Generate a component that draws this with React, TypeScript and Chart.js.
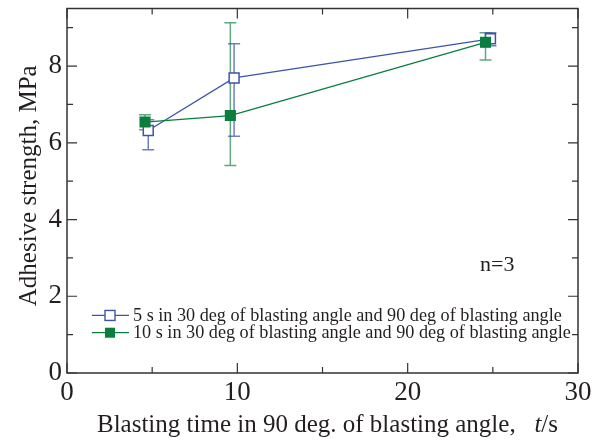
import React, { useEffect, useRef } from "react";
import { Chart, registerables } from "chart.js";

Chart.register(...registerables);

// Series A: 5 s in 30 deg + 90 deg (open squares, blue)
const xA = [4.77, 9.81, 24.86];
const yA = [6.32, 7.69, 8.71];
const loA = [5.82, 6.17, 8.53];
const hiA = [6.6, 8.58, 8.87];

// Series B: 10 s in 30 deg + 90 deg (filled squares, green)
const xB = [4.58, 9.59, 24.57];
const yB = [6.54, 6.71, 8.62];
const loB = [6.34, 5.41, 8.16];
const hiB = [6.73, 9.13, 8.87];

const labelA = "5 s in 30 deg of blasting angle and 90 deg of blasting angle";
const labelB = "10 s in 30 deg of blasting angle and 90 deg of blasting angle";
const xTicks = [0, 10, 20, 30];
const xMinor = [5, 15, 25];
const yTicks = [0, 2, 4, 6, 8];
const yMinor = [1, 3, 5, 7, 9];
const xTitle = "Blasting time in 90 deg. of blasting angle,   ";
const xTitleItalic = "t";
const xTitleUnit = "/s";
const yTitle = "Adhesive strength, MPa";
const note = "n=3";

const BLUE = "#3d55a8";
const GREEN = "#0b7d3e";
const BLUE_ERR = "rgba(61,85,168,0.75)";
const GREEN_ERR = "rgba(30,130,75,0.7)";
const AXIS = "#333333";
const TEXT = "#231f20";
const SERIF = '"Liberation Serif", "Times New Roman", Tinos, serif';

const errorBarPlugin = {
  id: "errorBars",
  beforeDatasetsDraw(chart: any) {
    const { ctx, scales } = chart;
    const xs = scales.x;
    const ys = scales.y;
    const draw = (xArr: number[], lo: number[], hi: number[], color: string) => {
      ctx.save();
      ctx.strokeStyle = color;
      ctx.lineWidth = 1.5;
      for (let i = 0; i < xArr.length; i++) {
        const px = xs.getPixelForValue(xArr[i]);
        const pl = ys.getPixelForValue(lo[i]);
        const ph = ys.getPixelForValue(hi[i]);
        ctx.beginPath();
        ctx.moveTo(px, pl);
        ctx.lineTo(px, ph);
        ctx.moveTo(px - 6, pl);
        ctx.lineTo(px + 6, pl);
        ctx.moveTo(px - 6, ph);
        ctx.lineTo(px + 6, ph);
        ctx.stroke();
      }
      ctx.restore();
    };
    draw(xB, loB, hiB, GREEN_ERR);
    draw(xA, loA, hiA, BLUE_ERR);
  },
};

const framePlugin = {
  id: "frame",
  afterDraw(chart: any) {
    const { ctx, chartArea, scales } = chart;
    const { left, right, top, bottom } = chartArea;
    const xs = scales.x;
    const ys = scales.y;
    ctx.save();
    ctx.strokeStyle = AXIS;
    ctx.lineWidth = 1.5;
    ctx.strokeRect(left, top, right - left, bottom - top);
    ctx.lineWidth = 1.2;
    ctx.beginPath();
    const tickX = (v: number, len: number) => {
      const p = xs.getPixelForValue(v);
      ctx.moveTo(p, bottom);
      ctx.lineTo(p, bottom - len);
      ctx.moveTo(p, top);
      ctx.lineTo(p, top + len);
    };
    const tickY = (v: number, len: number) => {
      const p = ys.getPixelForValue(v);
      ctx.moveTo(left, p);
      ctx.lineTo(left + len, p);
      ctx.moveTo(right, p);
      ctx.lineTo(right - len, p);
    };
    xTicks.forEach((v) => tickX(v, 10));
    xMinor.forEach((v) => tickX(v, 6));
    yTicks.forEach((v) => tickY(v, 10));
    yMinor.forEach((v) => tickY(v, 6));
    ctx.stroke();

    // axis titles
    ctx.fillStyle = TEXT;
    ctx.textBaseline = "middle";
    const normalFont = `25px ${SERIF}`;
    const italicFont = `italic 25px ${SERIF}`;
    ctx.font = normalFont;
    const w1 = ctx.measureText(xTitle).width;
    const w3 = ctx.measureText(xTitleUnit).width;
    ctx.font = italicFont;
    const w2 = ctx.measureText(xTitleItalic).width;
    const total = w1 + w2 + w3;
    let tx = (left + right) / 2 + 5 - total / 2;
    const ty = bottom + 52;
    ctx.textAlign = "left";
    ctx.font = normalFont;
    ctx.fillText(xTitle, tx, ty);
    tx += w1;
    ctx.font = italicFont;
    ctx.fillText(xTitleItalic, tx, ty);
    tx += w2;
    ctx.font = normalFont;
    ctx.fillText(xTitleUnit, tx, ty);

    ctx.save();
    ctx.translate(29, (top + bottom) / 2 - 5);
    ctx.rotate(-Math.PI / 2);
    ctx.textAlign = "center";
    ctx.font = normalFont;
    ctx.fillText(yTitle, 0, 0);
    ctx.restore();

    // n=3 note
    ctx.font = `22px ${SERIF}`;
    ctx.textAlign = "left";
    ctx.fillText(note, left + 413, ys.getPixelForValue(2.8));

    // legend
    const lx = left + 25;
    const rows = [
      { label: labelA, color: BLUE, filled: false, y: ys.getPixelForValue(1.5) },
      { label: labelB, color: GREEN, filled: true, y: ys.getPixelForValue(1.05) },
    ];
    rows.forEach((r) => {
      ctx.strokeStyle = r.color;
      ctx.lineWidth = 1.3;
      ctx.beginPath();
      ctx.moveTo(lx, r.y);
      ctx.lineTo(lx + 37, r.y);
      ctx.stroke();
      const cx = lx + 18;
      if (r.filled) {
        ctx.fillStyle = r.color;
        ctx.fillRect(cx - 5, r.y - 5, 10, 10);
      } else {
        ctx.fillStyle = "#ffffff";
        ctx.fillRect(cx - 5, r.y - 5, 10, 10);
        ctx.lineWidth = 1.4;
        ctx.strokeRect(cx - 5, r.y - 5, 10, 10);
      }
      ctx.fillStyle = TEXT;
      ctx.font = `18.2px ${SERIF}`;
      ctx.textAlign = "left";
      ctx.textBaseline = "middle";
      ctx.fillText(r.label, lx + 41, r.y + 1);
    });
    ctx.restore();
  },
};

export default function App() {
  const canvasRef = useRef<HTMLCanvasElement | null>(null);

  useEffect(() => {
    document.body.style.margin = "0";
    const canvas = canvasRef.current;
    if (!canvas) return;
    let chart: Chart | null = null;
    let cancelled = false;
    const fontsToLoad = [
      `27px "Liberation Serif"`,
      `25px "Liberation Serif"`,
      `italic 25px "Liberation Serif"`,
    ];
    const make = () => {
      if (cancelled) return;
      chart = new Chart(canvas, {
        type: "line",
        data: {
          datasets: [
            {
              label: labelB,
              data: xB.map((x, i) => ({ x, y: yB[i] })),
              borderColor: GREEN,
              backgroundColor: GREEN,
              borderWidth: 1.3,
              pointStyle: "rect",
              pointRadius: 7,
              pointBorderWidth: 1.2,
              pointBackgroundColor: GREEN,
              pointBorderColor: GREEN,
              order: 0,
            },
            {
              label: labelA,
              data: xA.map((x, i) => ({ x, y: yA[i] })),
              borderColor: BLUE,
              backgroundColor: "#ffffff",
              borderWidth: 1.3,
              pointStyle: "rect",
              pointRadius: 7,
              pointBorderWidth: 1.5,
              pointBackgroundColor: "#ffffff",
              pointBorderColor: BLUE,
              order: 1,
            },
          ],
        },
        options: {
          animation: false,
          responsive: false,
          events: [],
          layout: { padding: { top: 7, right: 19, left: 0, bottom: 0 } },
          plugins: {
            legend: { display: false },
            tooltip: { enabled: false },
          },
          scales: {
            x: {
              type: "linear",
              min: 0,
              max: 30,
              afterFit: (s: any) => {
                s.height = 73;
                s.paddingLeft = 0;
                s.paddingRight = 0;
              },
              grid: { display: false, drawTicks: false },
              border: { display: false },
              ticks: {
                stepSize: 10,
                padding: 4,
                color: TEXT,
                font: { family: SERIF, size: 27 },
                maxRotation: 0,
              },
            },
            y: {
              type: "linear",
              min: 0,
              max: 9.5,
              afterFit: (s: any) => {
                s.width = 67;
                s.paddingTop = 0;
                s.paddingBottom = 0;
              },
              grid: { display: false, drawTicks: false },
              border: { display: false },
              ticks: {
                stepSize: 2,
                includeBounds: false,
                padding: 5,
                color: TEXT,
                font: { family: SERIF, size: 27 },
              },
            },
          },
        },
        plugins: [errorBarPlugin, framePlugin],
      });
    };
    const fonts: any = (document as any).fonts;
    if (fonts && fonts.load) {
      Promise.all(fontsToLoad.map((f) => fonts.load(f)))
        .catch(() => undefined)
        .then(make);
    } else {
      make();
    }
    return () => {
      cancelled = true;
      if (chart) chart.destroy();
    };
  }, []);

  return (
    <div style={{ position: "absolute", left: 0, top: 0, width: 597, height: 446, background: "#fff" }}>
      <canvas ref={canvasRef} width={597} height={446} style={{ width: 597, height: 446 }} />
    </div>
  );
}
